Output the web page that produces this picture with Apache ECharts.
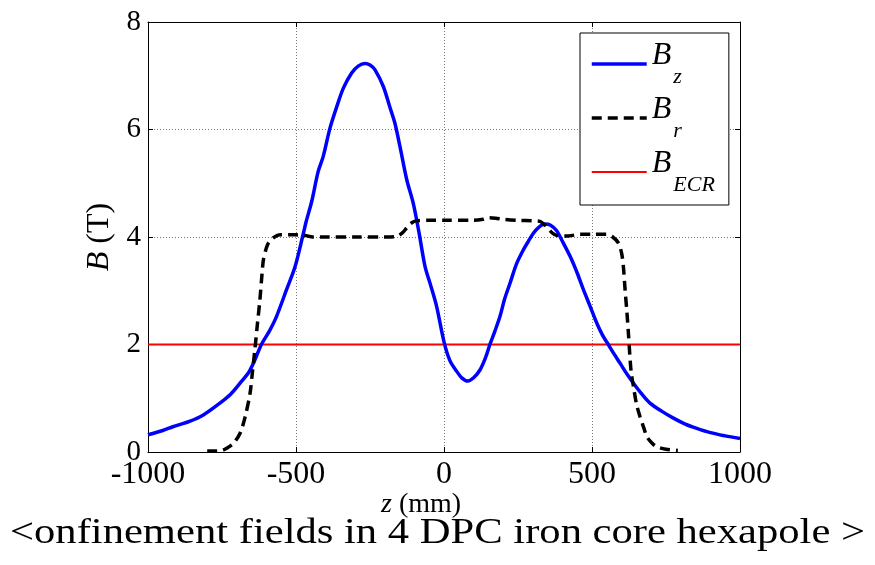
<!DOCTYPE html>
<html>
<head>
<meta charset="utf-8">
<script src="https://cdn.jsdelivr.net/npm/echarts@6/dist/echarts.min.js"></script>
<style>
html,body{margin:0;padding:0;background:#fff;}
#chart{width:875px;height:565px;}
</style>
</head>
<body>
<div id="chart"></div>
<script>
// ---- data ----
const bzZ = [-1000,-950,-916,-860,-813,-757,-720,-689,-660,-644,-616,-590,-566,-532,-503,-475,-466,-447,-425,-408,-385,-362,-340,-312,-290,-267,-250,-233,-205,-182,-166,-149,-126,-104,-85,-64,-45,-25,0,20,43,60,80,100,122,140,155,172,189,205,223,245,268,285,302,320,341,360,380,400,426,450,471,493,516,535,555,575,595,618,640,668,696,735,775,815,854,900,950,1000];
const bzB = [0.32,0.40,0.47,0.57,0.69,0.91,1.08,1.28,1.48,1.65,2.01,2.25,2.52,3.02,3.45,4.07,4.28,4.66,5.22,5.50,6.03,6.43,6.77,7.05,7.18,7.23,7.20,7.11,6.80,6.40,6.12,5.69,5.07,4.63,4.10,3.45,3.10,2.71,2.05,1.70,1.50,1.38,1.32,1.38,1.53,1.75,2.00,2.25,2.52,2.85,3.14,3.50,3.76,3.92,4.07,4.18,4.24,4.22,4.12,3.92,3.64,3.33,3.02,2.72,2.40,2.18,2.00,1.82,1.65,1.45,1.28,1.08,0.91,0.76,0.63,0.52,0.44,0.36,0.30,0.25];
const brZ = [-800,-770,-750,-734,-710,-689,-672,-655,-647,-639,-630,-622,-615,-610,-600,-593,-575,-554,-500,-470,-443,-400,-300,-200,-160,-140,-126,-110,-93,-50,0,100,132,150,175,200,250,300,324,345,365,380,420,460,500,550,570,589,600,606,612,618,623,632,640,650,662,675,685,700,718,750,790];
const brB = [0.02,0.02,0.03,0.07,0.17,0.35,0.65,1.10,1.50,1.90,2.40,2.83,3.30,3.58,3.80,3.89,3.99,4.04,4.04,4.03,4.00,4.00,4.00,4.00,4.01,4.08,4.17,4.26,4.30,4.31,4.31,4.31,4.33,4.36,4.35,4.33,4.31,4.30,4.29,4.20,4.08,4.03,4.02,4.05,4.05,4.05,4.00,3.89,3.70,3.45,3.00,2.60,2.21,1.50,1.22,0.90,0.66,0.45,0.29,0.18,0.10,0.05,0.03];
const ecrZ = [-1000, 1000];
const ecrB = [2, 2];
const xTicks = [-1000, -500, 0, 500, 1000];
const yTicks = [0, 2, 4, 6, 8];
const seriesNames = ['Bz', 'Br', 'BECR'];
const subs = {Bz: 'z', Br: 'r', BECR: 'ECR'};
const captionText = '<onfinement fields in 4 DPC iron core hexapole >';

const zip = (a, b) => a.map((v, i) => [v, b[i]]);
const FONT = 'Liberation Serif';

// stretch caption to span the same width as in the reference
const cv = document.createElement('canvas').getContext('2d');
cv.font = '36px "Liberation Serif"';
const capW = cv.measureText(captionText).width;
const capScale = 855 / capW;

const chart = echarts.init(document.getElementById('chart'), null, {renderer: 'canvas'});
const baseX = {
  type: 'value', min: xTicks[0], max: xTicks[xTicks.length - 1], interval: 500,
  axisLine: {show: true, onZero: false, lineStyle: {color: '#000', width: 1}},
  axisTick: {show: true, inside: true, length: 5, lineStyle: {color: '#000'}},
  splitLine: {show: false}
};
const baseY = {
  type: 'value', min: yTicks[0], max: yTicks[yTicks.length - 1], interval: 2,
  axisLine: {show: true, onZero: false, lineStyle: {color: '#000', width: 1}},
  axisTick: {show: true, inside: true, length: 5, lineStyle: {color: '#000'}},
  splitLine: {show: false}
};
const option = {
  animation: false,
  backgroundColor: '#fff',
  grid: {left: 148, right: 135, top: 22, bottom: 113, containLabel: false},
  xAxis: [
    Object.assign({}, baseX, {
      position: 'bottom',
      axisLabel: {show: true, color: '#000', fontFamily: FONT, fontSize: 32, margin: 7,
        formatter: v => String(v)},
      splitLine: {show: true, lineStyle: {color: '#777', type: [1, 2], width: 1}}
    }),
    Object.assign({}, baseX, {position: 'top', axisLabel: {show: false}})
  ],
  yAxis: [
    Object.assign({}, baseY, {
      position: 'left',
      axisLabel: {show: true, color: '#000', fontFamily: FONT, fontSize: 29, margin: 7,
        formatter: v => String(v)},
      splitLine: {show: true, lineStyle: {color: '#777', type: [1, 2], width: 1}},
      name: '{i|B} (T)', nameLocation: 'middle', nameRotate: 90, nameGap: 32,
      nameTextStyle: {color: '#000', fontFamily: FONT, fontSize: 32,
        rich: {i: {fontStyle: 'italic', fontFamily: FONT, fontSize: 32, color: '#000'}}}
    }),
    Object.assign({}, baseY, {position: 'right', axisLabel: {show: false}})
  ],
  legend: {
    orient: 'vertical', left: 580, top: 33,
    data: seriesNames,
    itemWidth: 55, itemHeight: 14, itemGap: 6,
    padding: [7, 14, 9, 10],
    borderColor: '#000', borderWidth: 1, backgroundColor: '#fff',
    itemStyle: {opacity: 0},
    lineStyle: {width: 'inherit', type: 'inherit'},
    formatter: n => '{b|B}{s|' + subs[n] + '}',
    textStyle: {
      color: '#000', fontFamily: FONT,
      rich: {
        b: {fontStyle: 'italic', fontFamily: FONT, fontSize: 32, color: '#000', verticalAlign: 'top'},
        s: {fontStyle: 'italic', fontFamily: FONT, fontSize: 22, color: '#000', padding: [26, 0, 0, 2], verticalAlign: 'top'}
      }
    }
  },
  graphic: [
    {type: 'text', left: 381, top: 491, z: 10,
      style: {text: '{i|z} (mm)', fill: '#000', font: '28px "Liberation Serif"',
        rich: {i: {fontStyle: 'italic', fontFamily: FONT, fontSize: 28, fill: '#000'}}}},
    {type: 'text', x: 10, y: 516, scaleX: capScale, originX: 0, originY: 0, z: 11,
      style: {text: captionText, fill: '#000', font: '36px "Liberation Serif"', verticalAlign: 'top'}}
  ],
  series: [
    {name: 'Bz', type: 'line', data: zip(bzZ, bzB), showSymbol: false, symbol: 'none', smooth: 0.3,
      lineStyle: {color: '#0000ff', width: 3.5}, itemStyle: {color: '#0000ff'}, z: 3},
    {name: 'Br', type: 'line', data: zip(brZ, brB), showSymbol: false, symbol: 'none', smooth: 0.3,
      lineStyle: {color: '#000', width: 3.5, type: [10, 6]}, itemStyle: {color: '#000'}, z: 4},
    {name: 'BECR', type: 'line', data: zip(ecrZ, ecrB), showSymbol: false, symbol: 'none',
      lineStyle: {color: '#ff0000', width: 2}, itemStyle: {color: '#ff0000'}, z: 2}
  ]
};
chart.setOption(option);
</script>
</body>
</html>
